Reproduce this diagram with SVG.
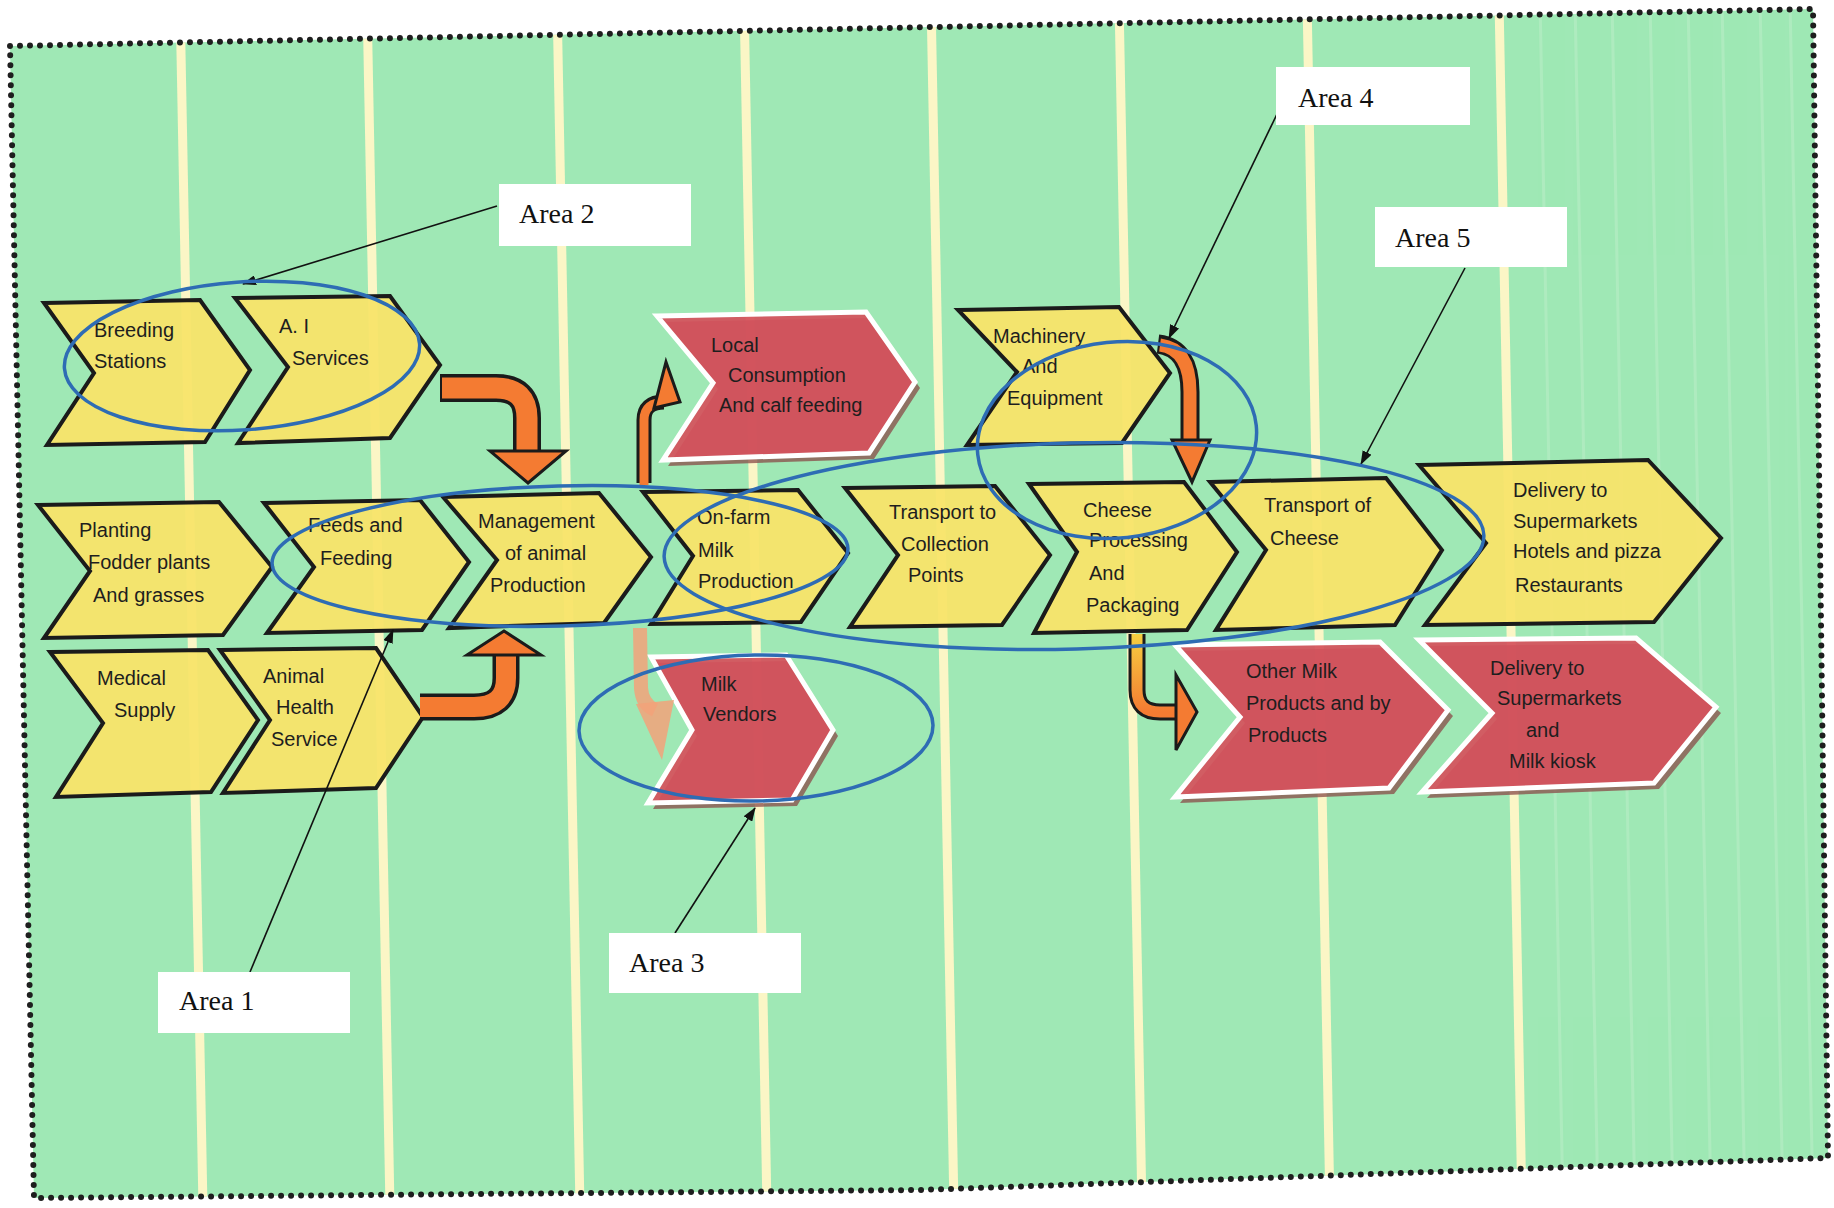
<svg xmlns="http://www.w3.org/2000/svg" width="1834" height="1208" viewBox="0 0 1834 1208">
<style>
.y{fill:#f8e46a;fill-opacity:0.95;stroke:#1b1b1b;stroke-width:4;stroke-linejoin:miter}
.r{fill:#d5525c;fill-opacity:0.93;stroke:#ffffff;stroke-width:5;stroke-linejoin:miter}
.sh{fill:#8a4b48;opacity:0.75}
.t{font-family:'Liberation Sans',Arial,sans-serif;font-size:20px;fill:#1e1e1e}
.lb{font-family:'Liberation Serif','Times New Roman',serif;font-size:28px;fill:#111}
.box{fill:#ffffff}
.ell{fill:none;stroke:#2e6cb4;stroke-width:3.5}
.ptr{fill:none;stroke:#111;stroke-width:1.6}
.ob{fill:none;stroke:#1b1b1b;stroke-linecap:butt;stroke-linejoin:round}
.oo{fill:none;stroke:#f47b32;stroke-linecap:butt;stroke-linejoin:round}
.oh{fill:#f47b32;stroke:#1b1b1b;stroke-width:3;stroke-linejoin:miter}
.stripe{stroke:#fbf6c6;stroke-width:9}
.faint{stroke:#c6f0cf;stroke-width:3;opacity:0.4}
</style>
<defs>
<marker id="ah" markerWidth="14" markerHeight="10" refX="13" refY="5" orient="auto" markerUnits="userSpaceOnUse">
<path d="M0,0 L14,5 L0,10 Z" fill="#111"/>
</marker>
<linearGradient id="yo" x1="0" y1="0" x2="0" y2="1">
<stop offset="0" stop-color="#f6d040"/>
<stop offset="1" stop-color="#f47b32"/>
</linearGradient>
<clipPath id="bgclip">
<polygon points="10,46 1813,9 1828,1158 920,1190 34,1198"/>
</clipPath>
</defs>

<rect x="0" y="0" width="1834" height="1208" fill="#ffffff"/>
<g id="background">
<polygon points="10,46 1813,9 1828,1158 920,1190 34,1198" fill="#9fe8b5"/>
<g clip-path="url(#bgclip)">
<line class="faint" x1="1540" y1="0" x2="1563" y2="1208"/>
<line class="faint" x1="1575" y1="0" x2="1598" y2="1208"/>
<line class="faint" x1="1612" y1="0" x2="1635" y2="1208"/>
<line class="faint" x1="1650" y1="0" x2="1673" y2="1208"/>
<line class="faint" x1="1688" y1="0" x2="1711" y2="1208"/>
<line class="faint" x1="1722" y1="0" x2="1745" y2="1208"/>
<line class="faint" x1="1760" y1="0" x2="1783" y2="1208"/>
<line class="faint" x1="1790" y1="0" x2="1813" y2="1208"/>
<line class="stripe" x1="180" y1="0" x2="203" y2="1208"/>
<line class="stripe" x1="367" y1="0" x2="390" y2="1208"/>
<line class="stripe" x1="557" y1="0" x2="580" y2="1208"/>
<line class="stripe" x1="744" y1="0" x2="767" y2="1208"/>
<line class="stripe" x1="931" y1="0" x2="954" y2="1208"/>
<line class="stripe" x1="1119" y1="0" x2="1142" y2="1208"/>
<line class="stripe" x1="1307" y1="0" x2="1330" y2="1208"/>
<line class="stripe" x1="1499" y1="0" x2="1522" y2="1208"/>
</g>
<polygon points="10,46 1813,9 1828,1158 920,1190 34,1198" fill="none" stroke="#1e1e1e" stroke-width="6" stroke-linecap="round" stroke-dasharray="0 10"/>
</g>

<g id="breeding"><polygon class="y" points="44,303 200,300 250,370 205,442 47,445 94,373"/>
<text class="t" x="94" y="337">Breeding</text><text class="t" x="94" y="368">Stations</text></g>
<g id="ai-services"><polygon class="y" points="235,298 390,296 440,365 390,438 238,443 288,367"/>
<text class="t" x="279" y="333">A. I</text><text class="t" x="292" y="365">Services</text></g>
<g id="local-consumption"><polygon class="sh" points="662,322 871,318 920,388 874,459 668,466 718,389"/>
<polygon class="r" points="657,316 866,312 915,382 869,453 663,460 713,383"/>
<text class="t" x="711" y="352">Local</text><text class="t" x="728" y="382">Consumption</text><text class="t" x="719" y="412">And calf feeding</text></g>
<g id="machinery"><polygon class="y" points="958,310 1119,307 1170,373 1122,443 967,445 1017,372"/>
<text class="t" x="993" y="343">Machinery</text><text class="t" x="1022" y="373">And</text><text class="t" x="1007" y="405">Equipment</text></g>

<g id="planting"><polygon class="y" points="38,505 219,502 272,567 223,635 44,638 90,571"/>
<text class="t" x="79" y="537">Planting</text><text class="t" x="88" y="569">Fodder plants</text><text class="t" x="93" y="602">And grasses</text></g>
<g id="feeds"><polygon class="y" points="264,503 420,500 469,562 422,630 267,633 314,567"/>
<text class="t" x="308" y="532">Feeds and</text><text class="t" x="320" y="565">Feeding</text></g>
<g id="management"><polygon class="y" points="443,497 599,493 651,557 604,623 449,628 497,560"/>
<text class="t" x="478" y="528">Management</text><text class="t" x="505" y="560">of animal</text><text class="t" x="490" y="592">Production</text></g>
<g id="onfarm"><polygon class="y" points="643,492 798,490 848,553 801,622 651,624 693,556"/>
<text class="t" x="697" y="524">On-farm</text><text class="t" x="698" y="557">Milk</text><text class="t" x="698" y="588">Production</text></g>
<g id="transport-collection"><polygon class="y" points="845,488 995,486 1050,555 1002,625 850,627 898,555"/>
<text class="t" x="889" y="519">Transport to</text><text class="t" x="901" y="551">Collection</text><text class="t" x="908" y="582">Points</text></g>
<g id="cheese-processing"><polygon class="y" points="1029,484 1184,482 1237,552 1187,630 1034,633 1077,552"/>
<text class="t" x="1083" y="517">Cheese</text><text class="t" x="1089" y="547">Processing</text><text class="t" x="1089" y="580">And</text><text class="t" x="1086" y="612">Packaging</text></g>
<g id="transport-cheese"><polygon class="y" points="1210,482 1386,478 1442,550 1395,625 1216,630 1266,550"/>
<text class="t" x="1264" y="512">Transport of</text><text class="t" x="1270" y="545">Cheese</text></g>
<g id="delivery-hotels"><polygon class="y" points="1419,465 1648,460 1721,538 1654,622 1425,625 1486,543"/>
<text class="t" x="1513" y="497">Delivery to</text><text class="t" x="1513" y="528">Supermarkets</text><text class="t" x="1513" y="558">Hotels and pizza</text><text class="t" x="1515" y="592">Restaurants</text></g>

<g id="medical"><polygon class="y" points="50,652 208,650 258,720 211,792 56,797 103,723"/>
<text class="t" x="97" y="685">Medical</text><text class="t" x="114" y="717">Supply</text></g>
<g id="animal-health"><polygon class="y" points="220,650 376,648 423,717 376,788 223,793 270,720"/>
<text class="t" x="263" y="683">Animal</text><text class="t" x="276" y="714">Health</text><text class="t" x="271" y="746">Service</text></g>
<g id="milk-vendors"><polygon class="sh" points="656,663 791,661 838,736 797,806 653,809 697,736"/>
<polygon class="r" points="651,657 786,655 833,730 792,800 648,803 692,730"/>
<text class="t" x="701" y="691">Milk</text><text class="t" x="703" y="721">Vendors</text></g>
<g id="other-milk"><polygon class="sh" points="1180,651 1385,648 1453,716 1394,794 1180,803 1245,723"/>
<polygon class="r" points="1175,645 1380,642 1448,710 1389,788 1175,797 1240,717"/>
<text class="t" x="1246" y="678">Other Milk</text><text class="t" x="1246" y="710">Products and by</text><text class="t" x="1248" y="742">Products</text></g>
<g id="delivery-kiosk"><polygon class="sh" points="1424,646 1641,644 1721,713 1659,789 1427,798 1497,719"/>
<polygon class="r" points="1419,640 1636,638 1716,707 1654,783 1422,792 1492,713"/>
<text class="t" x="1490" y="675">Delivery to</text><text class="t" x="1497" y="705">Supermarkets</text><text class="t" x="1526" y="737">and</text><text class="t" x="1509" y="768">Milk kiosk</text></g>

<g id="connectors">
<path class="ob" stroke-width="28" d="M440,388 L496,388 Q527,388 527,418 L527,452"/>
<path class="oo" stroke-width="21" d="M442,388 L496,388 Q527,388 527,418 L527,454"/>
<polygon class="oh" points="490,451 566,451 528,483"/>

<path class="ob" stroke-width="27" d="M420,707 L474,707 Q506,707 506,678 L506,654"/>
<path class="oo" stroke-width="20" d="M420,707 L474,707 Q506,707 506,678 L506,652"/>
<polygon class="oh" points="467,655 541,655 504,631"/>

<path class="ob" stroke-width="15" d="M644,483 L644,420 Q644,402 664,402"/>
<path class="oo" stroke-width="9" d="M644,485 L644,420 Q644,402 666,402"/>
<polygon class="oh" points="666,362 680,402 654,408"/>

<path fill="none" stroke="#f2a27a" stroke-width="14" opacity="0.85" d="M640,628 L641,688 Q642,704 655,710"/>
<polygon fill="#f2a27a" opacity="0.85" points="636,704 674,700 662,760"/>

<path class="ob" stroke-width="17" d="M1137,634 L1137,690 Q1137,712 1160,712 L1178,712"/>
<path fill="none" stroke="url(#yo)" stroke-width="11" d="M1137,634 L1137,690 Q1137,712 1160,712 L1180,712"/>
<polygon class="oh" points="1176,675 1197,712 1176,750"/>

<path class="ob" stroke-width="19" d="M1158,344 Q1190,348 1190,392 L1190,441"/>
<path class="oo" stroke-width="13" d="M1160,345 Q1190,349 1190,392 L1190,443"/>
<polygon class="oh" points="1172,440 1210,440 1192,482"/>

<line class="ptr" x1="497" y1="206" x2="243" y2="284" marker-end="url(#ah)"/>
<line class="ptr" x1="1278" y1="112" x2="1169" y2="338" marker-end="url(#ah)"/>
<line class="ptr" x1="1465" y1="268" x2="1361" y2="464" marker-end="url(#ah)"/>
<line class="ptr" x1="250" y1="972" x2="393" y2="630" marker-end="url(#ah)"/>
<line class="ptr" x1="675" y1="933" x2="755" y2="808" marker-end="url(#ah)"/>
</g>

<g id="area-ellipses">
<ellipse class="ell" cx="242" cy="356" rx="178" ry="74" transform="rotate(-4 242 356)"/>
<ellipse class="ell" cx="560" cy="556" rx="288" ry="70" transform="rotate(-1.5 560 556)"/>
<ellipse class="ell" cx="1074" cy="546" rx="410" ry="103" transform="rotate(-1.5 1074 546)"/>
<ellipse class="ell" cx="1117" cy="440" rx="140" ry="98" transform="rotate(-6 1117 440)"/>
<ellipse class="ell" cx="756" cy="728" rx="177" ry="73" transform="rotate(-1 756 728)"/>
</g>

<g id="label-area2"><rect class="box" x="499" y="184" width="192" height="62"/><text class="lb" x="519" y="223">Area 2</text></g>
<g id="label-area4"><rect class="box" x="1276" y="67" width="194" height="58"/><text class="lb" x="1298" y="107">Area 4</text></g>
<g id="label-area5"><rect class="box" x="1375" y="207" width="192" height="60"/><text class="lb" x="1395" y="247">Area 5</text></g>
<g id="label-area1"><rect class="box" x="158" y="972" width="192" height="61"/><text class="lb" x="179" y="1010">Area 1</text></g>
<g id="label-area3"><rect class="box" x="609" y="933" width="192" height="60"/><text class="lb" x="629" y="972">Area 3</text></g>
</svg>
